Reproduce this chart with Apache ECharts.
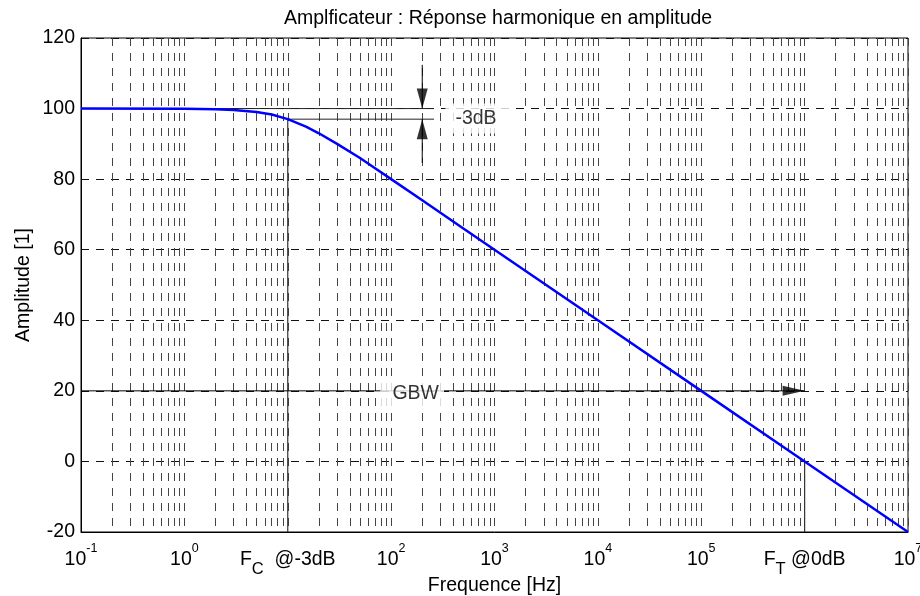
<!DOCTYPE html>
<html>
<head>
<meta charset="utf-8">
<script src="https://cdn.jsdelivr.net/npm/echarts@6/dist/echarts.min.js"></script>
<style>
  html, body { margin: 0; padding: 0; background: #fff; }
  #chart { width: 920px; height: 596px; }
</style>
</head>
<body>
<div id="chart"></div>
<script>
// courbe
const freq = [0.1, 1, 2, 3, 5, 7, 10, 15, 20, 30, 50, 70, 100, 200, 500, 1000, 1e4, 1e5, 1e6, 1e7];
const amp = [100, 99.96, 99.83, 99.6, 99.0, 98.3, 97.0, 94.9, 93.0, 90.0, 86.0, 83.1, 80.0, 74.0, 66.0, 60.0, 40.0, 20.0, 0.0, -20.0];

// graduations
const yTicks = [-20, 0, 20, 40, 60, 80, 100, 120];
const xTickText = [
  '{b|10}{sup|-1}', '{b|10}{sup|0}', '{b|F}{sub|C}{b|  @-3dB}', '{b|10}{sup|2}',
  '{b|10}{sup|3}', '{b|10}{sup|4}', '{b|10}{sup|5}', '{b|F}{sub|T}{b| @0dB}', '{b|10}{sup|7}'
];

// annotations
const fcLine = [[10, -20], [10, 97]];
const ftLine = [[1e6, -20], [1e6, 0]];
const ref100 = [[0.1, 100], [260, 100]];
const ref97 = [[10, 97], [260, 97]];
const arrowTop = [[200, 112.4], [200, 100]];
const arrowBot = [[200, 84.6], [200, 97]];
const gbwLine = [[0.1, 20], [1e6, 20]];
const label3dB = [[700, 97.2]];
const labelGbw = [[160, 19.2]];

const FONT = '"Liberation Sans", Arial, sans-serif';

const chart = echarts.init(document.getElementById('chart'));

const segment = (data, color, width) => ({
  type: 'line',
  data: data,
  symbol: 'none',
  silent: true,
  lineStyle: { color: color, width: width },
  z: 3
});

const head = (pt, rot, size, off) => ({
  type: 'scatter',
  data: [pt],
  symbol: 'triangle',
  symbolSize: size,
  symbolRotate: rot,
  symbolOffset: off,
  itemStyle: { color: '#000' },
  silent: true,
  z: 4
});

const textMark = (data, text, pad) => ({
  type: 'scatter',
  data: data,
  symbolSize: 1,
  itemStyle: { color: 'transparent' },
  silent: true,
  label: {
    show: true,
    position: 'inside',
    formatter: text,
    color: '#000',
    fontFamily: FONT,
    fontSize: 19.5,
    backgroundColor: '#fff',
    padding: pad
  },
  z: 5
});

const option = {
  animation: false,
  backgroundColor: '#fff',
  textStyle: { fontFamily: FONT },
  title: {
    text: 'Amplficateur : Réponse harmonique en amplitude',
    left: 279,
    top: 4,
    textStyle: { fontFamily: FONT, fontSize: 19.5, fontWeight: 'normal', color: '#000' }
  },
  grid: {
    left: 81, right: 12, top: 38, bottom: 64,
    containLabel: false,
    outerBoundsMode: 'none',
    show: true, borderColor: '#000', borderWidth: 1
  },
  xAxis: {
    type: 'log',
    logBase: 10,
    min: 0.1,
    max: 1e7,
    splitNumber: 8,
    name: 'Frequence [Hz]',
    nameLocation: 'middle',
    nameGap: 44,
    nameMoveOverlap: false,
    nameTextStyle: { fontFamily: FONT, fontSize: 19.5, color: '#000' },
    axisLine: { onZero: false, lineStyle: { color: '#000', width: 1 } },
    axisTick: { show: false },
    axisLabel: {
      margin: 10,
      color: '#000',
      formatter: v => xTickText[Math.round(Math.log10(v)) + 1],
      rich: {
        b: { fontFamily: FONT, fontSize: 19.5, lineHeight: 36, color: '#000' },
        sup: { fontFamily: FONT, fontSize: 12.5, lineHeight: 13, verticalAlign: 'top', color: '#000' },
        sub: { fontFamily: FONT, fontSize: 16.5, lineHeight: 13, verticalAlign: 'bottom', color: '#000' }
      }
    },
    splitLine: { show: true, lineStyle: { color: '#444', width: 1, type: [8, 7] } },
    minorTick: { show: false, splitNumber: 9 },
    minorSplitLine: { show: true, lineStyle: { color: '#444', width: 1, type: [8, 7] } }
  },
  yAxis: {
    type: 'value',
    min: yTicks[0],
    max: yTicks[yTicks.length - 1],
    interval: 20,
    name: 'Amplitude [1]',
    nameLocation: 'middle',
    nameGap: 47,
    nameMoveOverlap: false,
    nameTextStyle: { fontFamily: FONT, fontSize: 19.5, color: '#000' },
    axisLine: { show: true, lineStyle: { color: '#000', width: 1 } },
    axisTick: { show: false },
    axisLabel: { margin: 6, color: '#000', fontFamily: FONT, fontSize: 19.5 },
    splitLine: { show: true, lineStyle: { color: '#111', width: 1, type: [8, 7] } }
  },
  series: [
    segment(fcLine, '#333', 1.2),
    segment(ftLine, '#333', 1.2),
    segment(ref100, '#222', 1),
    segment(ref97, '#222', 1),
    segment(arrowTop, '#000', 1),
    segment(arrowBot, '#000', 1),
    segment(gbwLine, '#000', 1),
    head(arrowTop[1], 180, [11, 20], [0, -10]),
    head(arrowBot[1], 0, [11, 20], [0, 10]),
    head(gbwLine[1], -90, [10, 22], [-11, 0]),
    {
      type: 'line',
      data: freq.map((f, i) => [f, amp[i]]),
      symbol: 'none',
      silent: true,
      lineStyle: { color: '#0000ff', width: 2.5 },
      z: 6
    },
    textMark(label3dB, '-3dB', [5, 15, 5, 10]),
    textMark(labelGbw, 'GBW', [3, 5, 3, 12])
  ]
};

chart.setOption(option);
</script>
</body>
</html>
